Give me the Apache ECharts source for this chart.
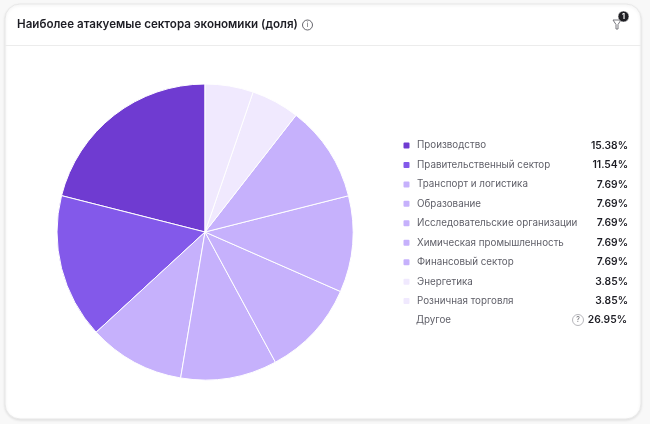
<!DOCTYPE html>
<html>
<head>
<meta charset="utf-8">
<script src="https://cdn.jsdelivr.net/npm/echarts@6/dist/echarts.min.js"></script>
<style>
html, body { margin: 0; padding: 0; background: #f8f8f8; }
#chart { width: 650px; height: 424px; }
</style>
</head>
<body>
<div id="chart"></div>
<script>
var titleText = 'Наиболее атакуемые сектора экономики (доля)';
var categories = ['Производство', 'Правительственный сектор', 'Транспорт и логистика', 'Образование', 'Исследовательские организации', 'Химическая промышленность', 'Финансовый сектор', 'Энергетика', 'Розничная торговля'];
var shares = [15.38, 11.54, 7.69, 7.69, 7.69, 7.69, 7.69, 3.85, 3.85];
var colors = ['#6f3bd1', '#8359ea', '#c6b1fc', '#c6b1fc', '#c6b1fc', '#c6b1fc', '#c6b1fc', '#f0e9fe', '#f0e9fe'];
var otherName = 'Другое';
var otherShare = 26.95;

var font = 'Inter, "Noto Sans", sans-serif';
var chart = echarts.init(document.getElementById('chart'));

var pieData = categories.map(function(name, i) {
	return { name: name, value: shares[i], itemStyle: { color: colors[i] } };
});

chart.setOption({
	animation: false,
	textStyle: { fontFamily: font },
	title: {
		text: titleText,
		left: 17,
		top: 17.5,
		padding: 0,
		textStyle: { fontFamily: font, fontSize: 11.6, fontWeight: 600, color: '#1d1d24', lineHeight: 14 }
	},
	legend: {
		orient: 'vertical',
		left: 401.5,
		top: 140.5,
		padding: 0,
		selectedMode: false,
		icon: 'roundRect',
		itemWidth: 8,
		itemHeight: 8,
		itemGap: 9.45,
		data: categories,
		formatter: function(name) {
			return '{n|' + name + '}{v|' + shares[categories.indexOf(name)].toFixed(2) + '%}';
		},
		textStyle: {
			rich: {
				n: { width: 170, padding: [0, 0, 0, 1.5], fontFamily: font, fontSize: 9.8, color: '#5f5f68', lineHeight: 12 },
				v: { width: 41, align: 'right', fontFamily: font, fontSize: 10.3, fontWeight: 600, color: '#1d1d24', lineHeight: 12 }
			}
		}
	},
	series: [{
		type: 'pie',
		z: 5,
		center: [205, 232],
		radius: [0, 148],
		startAngle: 90,
		clockwise: false,
		label: { show: false },
		labelLine: { show: false },
		silent: true,
		itemStyle: { borderColor: '#ffffff', borderWidth: 1 },
		data: pieData
	}],
	graphic: [
		// карточка
		{ type: 'rect', z: -10, shape: { x: 5, y: 4, width: 636, height: 415, r: 15 }, style: { fill: '#fff', stroke: '#e8e8e8', lineWidth: 1, shadowBlur: 3, shadowColor: 'rgba(0,0,0,0.1)', shadowOffsetY: 1 } },
		{ type: 'line', z: -9, shape: { x1: 5, y1: 45.5, x2: 641, y2: 45.5 }, style: { stroke: '#ececec', lineWidth: 1 } },
		// значок инфо
		{ type: 'circle', shape: { cx: 307.5, cy: 25, r: 5 }, style: { fill: 'none', stroke: '#55555c', lineWidth: 0.9 } },
		{ type: 'text', x: 307.5, y: 25, style: { text: 'i', fontFamily: font, fontSize: 7, fill: '#55555c', align: 'center', verticalAlign: 'middle' } },
		// фильтр
		{ type: 'polyline', shape: { points: [[613, 20], [621, 20], [618, 24.5], [618, 29], [616, 29], [616, 24.5], [613, 20]] }, style: { fill: 'none', stroke: '#77777d', lineWidth: 1 } },
		{ type: 'circle', shape: { cx: 623.5, cy: 16.5, r: 5.5 }, style: { fill: '#1f1f24', stroke: '#fff', lineWidth: 0.6 } },
		{ type: 'text', x: 623.5, y: 16.8, style: { text: '1', fontFamily: font, fontSize: 7, fontWeight: 700, fill: '#fff', align: 'center', verticalAlign: 'middle' } },
		// строка "Другое"
		{ type: 'text', x: 416, y: 320, style: { text: otherName, fontFamily: font, fontSize: 9.8, fill: '#5f5f68', verticalAlign: 'middle' } },
		{ type: 'text', x: 627, y: 320, style: { text: otherShare.toFixed(2) + '%', fontFamily: font, fontSize: 10.3, fontWeight: 600, fill: '#1d1d24', align: 'right', verticalAlign: 'middle' } },
		{ type: 'circle', shape: { cx: 578, cy: 320, r: 5.5 }, style: { fill: 'none', stroke: '#a5a5ab', lineWidth: 0.8 } },
		{ type: 'text', x: 578, y: 320.2, style: { text: '?', fontFamily: font, fontSize: 7, fill: '#66666c', align: 'center', verticalAlign: 'middle' } }
	]
});
</script>
</body>
</html>
